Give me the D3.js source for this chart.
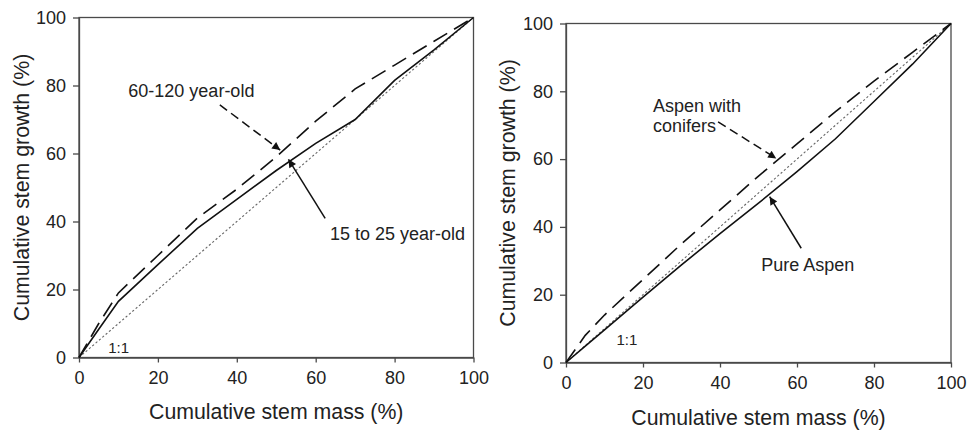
<!DOCTYPE html>
<html>
<head>
<meta charset="utf-8">
<script src="https://cdn.jsdelivr.net/npm/d3@7"></script>
<style>
  html, body { margin: 0; padding: 0; background: #fff; }
  svg { display: block; }
  text { font-family: "Liberation Sans", Arial, sans-serif; fill: #222; }
</style>
</head>
<body>
<svg id="chart" width="968" height="432"></svg>
<script>
// ---------- data ----------
const ticks = [0, 20, 40, 60, 80, 100];
const stemMass = [0, 5, 10, 20, 30, 40, 50, 60, 70, 80, 90, 100];

// Left panel: stand age classes
const growthYoung = [0, 8.3, 16.5, 27.3, 38, 46.5, 55, 63, 70, 81.5, 90.5, 100];   // 15 to 25 year-old (solid)
const growthOld   = [0, 10, 19, 30, 41, 49.5, 59, 69.5, 79, 86, 93, 100];          // 60-120 year-old (dashed)

// Right panel: stand composition
const growthPure     = [0, 4.8, 9.6, 19.3, 28.8, 38, 47, 56.3, 66, 77, 88, 100];   // Pure Aspen (solid)
const growthConifers = [0, 8, 14, 24.5, 35, 45, 55, 64.5, 74, 83, 91.5, 100];      // Aspen with conifers (dashed)

const oneToOne = [0, 100];

const xTitle = "Cumulative stem mass (%)";
const yTitle = "Cumulative stem growth (%)";

// ---------- drawing ----------
const svg = d3.select("#chart");
svg.append("rect").attr("width", 968).attr("height", 432).attr("fill", "#fff");

const defs = svg.append("defs");
defs.append("marker")
  .attr("id", "arrow")
  .attr("viewBox", "0 0 10 10")
  .attr("refX", 10).attr("refY", 5)
  .attr("markerWidth", 10).attr("markerHeight", 8)
  .attr("markerUnits", "userSpaceOnUse")
  .attr("orient", "auto")
  .append("path").attr("d", "M0,0 L10,5 L0,10 Z").attr("fill", "#111");

function drawPanel(cfg) {
  const x = d3.scaleLinear().domain([0, 100]).range([cfg.left, cfg.right]);
  const y = d3.scaleLinear().domain([0, 100]).range([cfg.bottom, cfg.top]);
  const g = svg.append("g");

  // frame
  g.append("rect")
    .attr("x", x(0)).attr("y", y(100))
    .attr("width", x(100) - x(0)).attr("height", y(0) - y(100))
    .attr("fill", "none").attr("stroke", "#4a4a4a").attr("stroke-width", 1.3);

  // axes
  const xa = g.append("g").attr("transform", `translate(0,${y(0)})`)
    .call(d3.axisBottom(x).tickValues(ticks).tickSize(5).tickSizeOuter(0).tickPadding(9));
  const ya = g.append("g").attr("transform", `translate(${x(0)},0)`)
    .call(d3.axisLeft(y).tickValues(ticks).tickSize(6).tickSizeOuter(0).tickPadding(7));
  [xa, ya].forEach(a => {
    a.selectAll("path, line").attr("stroke", "#4a4a4a").attr("stroke-width", 1.3);
    a.selectAll("text").attr("font-size", 18)
      .attr("font-family", '"Liberation Sans", Arial, sans-serif').attr("fill", "#222");
  });

  // axis titles
  g.append("text")
    .attr("x", (x(0) + x(100)) / 2).attr("y", cfg.xTitleY)
    .attr("text-anchor", "middle").attr("font-size", 21.3).text(xTitle);
  g.append("text")
    .attr("transform", `translate(${cfg.yTitleX},${(y(0) + y(100)) / 2}) rotate(-90)`)
    .attr("text-anchor", "middle").attr("font-size", 21.3).text(yTitle);

  const line = d3.line().x(d => x(d[0])).y(d => y(d[1]));

  // 1:1 reference
  g.append("path").datum(oneToOne.map(v => [v, v]))
    .attr("d", line).attr("fill", "none")
    .attr("stroke", "#666").attr("stroke-width", 1.1).attr("stroke-dasharray", "2.2,2.2");

  // series
  g.append("path").datum(stemMass.map((m, i) => [m, cfg.solid[i]]))
    .attr("d", line).attr("fill", "none").attr("stroke", "#111").attr("stroke-width", 1.6);
  g.append("path").datum(stemMass.map((m, i) => [m, cfg.dashed[i]]))
    .attr("d", line).attr("fill", "none").attr("stroke", "#111").attr("stroke-width", 1.6)
    .attr("stroke-dasharray", "16,8");

  // annotations
  cfg.labels.forEach(l => {
    g.append("text").attr("x", x(l.x)).attr("y", y(l.y))
      .attr("font-size", l.size || 18).text(l.text);
  });
  cfg.arrows.forEach(a => {
    g.append("line")
      .attr("x1", x(a.from[0])).attr("y1", y(a.from[1]))
      .attr("x2", x(a.to[0])).attr("y2", y(a.to[1]))
      .attr("stroke", "#111").attr("stroke-width", 1.5)
      .attr("stroke-dasharray", a.dashed ? "9,5" : null)
      .attr("marker-end", "url(#arrow)");
  });
}

drawPanel({
  left: 79, right: 473.5, top: 17.5, bottom: 357.5,
  xTitleY: 419, yTitleX: 28.6,
  solid: growthYoung, dashed: growthOld,
  labels: [
    { text: "60-120 year-old", x: 12.5, y: 76.7 },
    { text: "15 to 25 year-old", x: 63.6, y: 34.6 },
    { text: "1:1", x: 7.4, y: 1.2, size: 15 }
  ],
  arrows: [
    { from: [35.7, 74.3], to: [51, 61], dashed: true },
    { from: [62.4, 40.9], to: [53.1, 58.3], dashed: false }
  ]
});

drawPanel({
  left: 566, right: 951, top: 23.5, bottom: 362.5,
  xTitleY: 425, yTitleX: 515,
  solid: growthPure, dashed: growthConifers,
  labels: [
    { text: "Aspen with", x: 22.6, y: 74 },
    { text: "conifers", x: 22.6, y: 68.1 },
    { text: "Pure Aspen", x: 50.7, y: 27 },
    { text: "1:1", x: 13.1, y: 5.2, size: 15 }
  ],
  arrows: [
    { from: [39.5, 71], to: [54.6, 60.2], dashed: true },
    { from: [61.1, 33.7], to: [52.9, 48.9], dashed: false }
  ]
});
</script>
</body>
</html>
